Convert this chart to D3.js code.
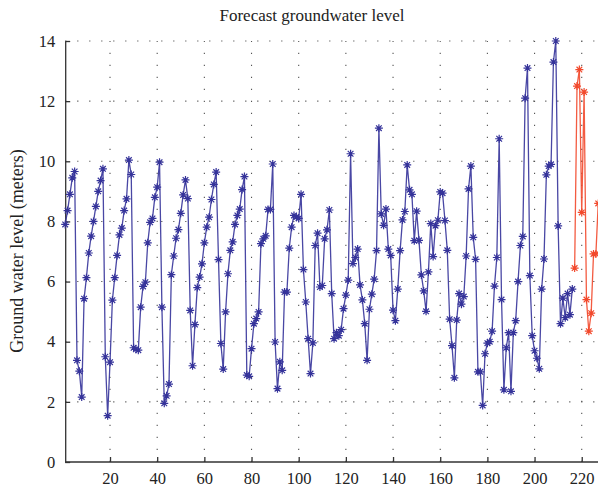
<!DOCTYPE html>
<html>
<head>
<meta charset="utf-8">
<script src="https://cdn.jsdelivr.net/npm/d3@7"></script>
<style>
  body { margin: 0; background: #fff; }
  svg text { font-family: "Liberation Serif", "DejaVu Serif", serif; fill: #222; }
</style>
</head>
<body>
<div class="chart"></div>
<script>
const width = 598
const height = 491

// observed / simulated levels, x = 1 .. 216
const observed = [
  7.9, 8.36, 8.9, 9.45, 9.66, 3.38, 3.02, 2.16, 5.43, 6.13,
  6.95, 7.51, 8.0, 8.5, 9.0, 9.36, 9.75, 3.5, 1.54, 3.32,
  5.38, 6.13, 6.87, 7.55, 7.78, 8.36, 8.75, 10.04, 9.56, 3.8,
  3.75, 3.72, 5.15, 5.84, 5.98, 7.29, 7.97, 8.1, 8.8, 9.14,
  9.97, 5.15, 1.95, 2.2, 2.59, 6.23, 6.85, 7.44, 7.73, 8.27,
  8.88, 9.38, 8.76, 5.04, 3.2, 4.57, 5.8, 6.15, 6.59, 7.29,
  7.81, 8.14, 8.73, 9.23, 9.64, 6.73, 3.94, 3.09, 4.99, 6.26,
  7.04, 7.32, 7.9, 8.2, 8.41, 9.06, 9.49, 2.89, 2.85, 3.77,
  4.6, 4.77, 4.99, 7.26, 7.42, 7.52, 8.4, 8.4, 9.91, 3.99,
  2.44, 3.33, 3.05, 5.65, 5.65, 7.11, 7.81, 8.2, 8.15, 8.1,
  8.9, 6.4, 5.32, 4.1, 2.94, 3.96, 7.2, 7.61, 5.82, 5.87,
  7.42, 7.72, 8.38, 5.6, 4.1, 4.3, 4.2, 4.4, 5.1, 5.55,
  6.05, 10.25, 6.6, 6.8, 7.08, 5.89, 5.39, 4.6, 3.38, 5.08,
  5.58, 6.08, 7.03, 11.1, 8.25, 7.87, 8.41, 7.08, 6.87, 5.05,
  4.7, 5.75, 7.03, 8.05, 8.33, 9.88, 9.05, 8.9, 7.36, 8.34,
  7.37, 6.22, 5.69, 5.01, 6.32, 7.93, 6.83, 7.86, 8.04, 8.98,
  8.94, 8.03, 7.04, 4.75, 3.87, 2.8, 4.72, 5.6, 5.25, 5.5,
  6.85, 9.08, 9.84, 7.47, 6.74, 3.0, 3.0, 1.88, 3.6, 3.95,
  4.0, 4.35, 5.85, 6.8, 10.75, 5.4, 2.4, 3.8, 4.3, 2.35,
  4.3, 4.7, 6.0, 7.2, 7.5, 12.1, 13.1, 6.2, 4.2, 3.7,
  3.45, 3.1, 5.75, 6.75, 9.55, 9.84, 9.9, 13.3, 14.0, 7.85,
  4.6, 5.45, 4.8, 5.6, 4.9, 5.75
]

// forecast, x = 217 .. 227
const forecastStart = 217
const forecast = [6.45, 12.5, 13.05, 8.3, 12.3, 5.4, 4.35, 4.95, 6.92, 6.92, 8.6]

const yTicks = [0, 2, 4, 6, 8, 10, 12, 14]
const xTicks = [20, 40, 60, 80, 100, 120, 140, 160, 180, 200, 220]

const obsPoints = observed.map((v, i) => ({ x: i + 1, y: v }))
const fcPoints = forecast.map((v, i) => ({ x: forecastStart + i, y: v }))

const svg = d3.select('.chart').append('svg')
    .attr('width', width)
    .attr('height', height)

let x = d3.scaleLinear().domain([1, 228]).range([65.2, 600.6])
let y = d3.scaleLinear().domain([0, 14]).range([462, 41])

// dotted grid
svg.append('g').selectAll('line')
    .data(yTicks.slice(1))
    .enter()
    .append('line')
    .attr('x1', x(1)).attr('x2', width)
    .attr('y1', d => y(d)).attr('y2', d => y(d))
    .style('stroke', '#555')
    .style('stroke-width', '1.1px')
    .style('stroke-dasharray', '1.2,10.8')

svg.append('g').selectAll('line')
    .data(xTicks)
    .enter()
    .append('line')
    .attr('x1', d => x(d)).attr('x2', d => x(d))
    .attr('y1', y(0)).attr('y2', y(14))
    .style('stroke', '#555')
    .style('stroke-width', '1.1px')
    .style('stroke-dasharray', '1.2,10.8')

// axes (ticks pointing inward, matlab style)
const xAxis = svg.append('g')
    .attr('transform', `translate(0,${y(0)})`)
    .call(d3.axisBottom(x).tickValues(xTicks).tickSizeInner(-5).tickSizeOuter(0).tickPadding(10))
xAxis.select('.domain').attr('d', `M${x(1)},0H${width}`)

const yAxis = svg.append('g')
    .attr('transform', `translate(${x(1)},0)`)
    .call(d3.axisLeft(y).tickValues(yTicks).tickSizeInner(-5).tickSizeOuter(0).tickPadding(10))

svg.selectAll('.tick text').style('font-size', '16.5px').style('fill', '#222')
svg.selectAll('.domain, .tick line').style('stroke', '#333').style('stroke-width', '1.3px')

// asterisk marker
function asterisk(r) {
    const k = r * 0.7071
    return `M${-r},0H${r}M0,${-r}V${r}M${-k},${-k}L${k},${k}M${-k},${k}L${k},${-k}`
}

const line = d3.line().x(d => x(d.x)).y(d => y(d.y))

function drawSeries(points, color) {
    svg.append('path')
        .datum(points)
        .attr('d', line)
        .style('fill', 'none')
        .style('stroke', color)
        .style('stroke-width', '1.3px')
        .style('stroke-opacity', 0.9)

    svg.append('g').selectAll('path')
        .data(points)
        .enter()
        .append('path')
        .attr('transform', d => `translate(${x(d.x)},${y(d.y)})`)
        .attr('d', asterisk(4))
        .style('fill', 'none')
        .style('stroke', color)
        .style('stroke-width', '1.2px')
}

drawSeries(obsPoints, '#35339a')
drawSeries(fcPoints, '#f2492c')

// title and label
svg.append('text')
    .attr('x', 312)
    .attr('y', 21)
    .attr('text-anchor', 'middle')
    .style('font-size', '17px')
    .text('Forecast groundwater level')

svg.append('text')
    .attr('transform', 'translate(23,251) rotate(-90)')
    .attr('text-anchor', 'middle')
    .style('font-size', '18px')
    .text('Ground water level (meters)')
</script>
</body>
</html>
